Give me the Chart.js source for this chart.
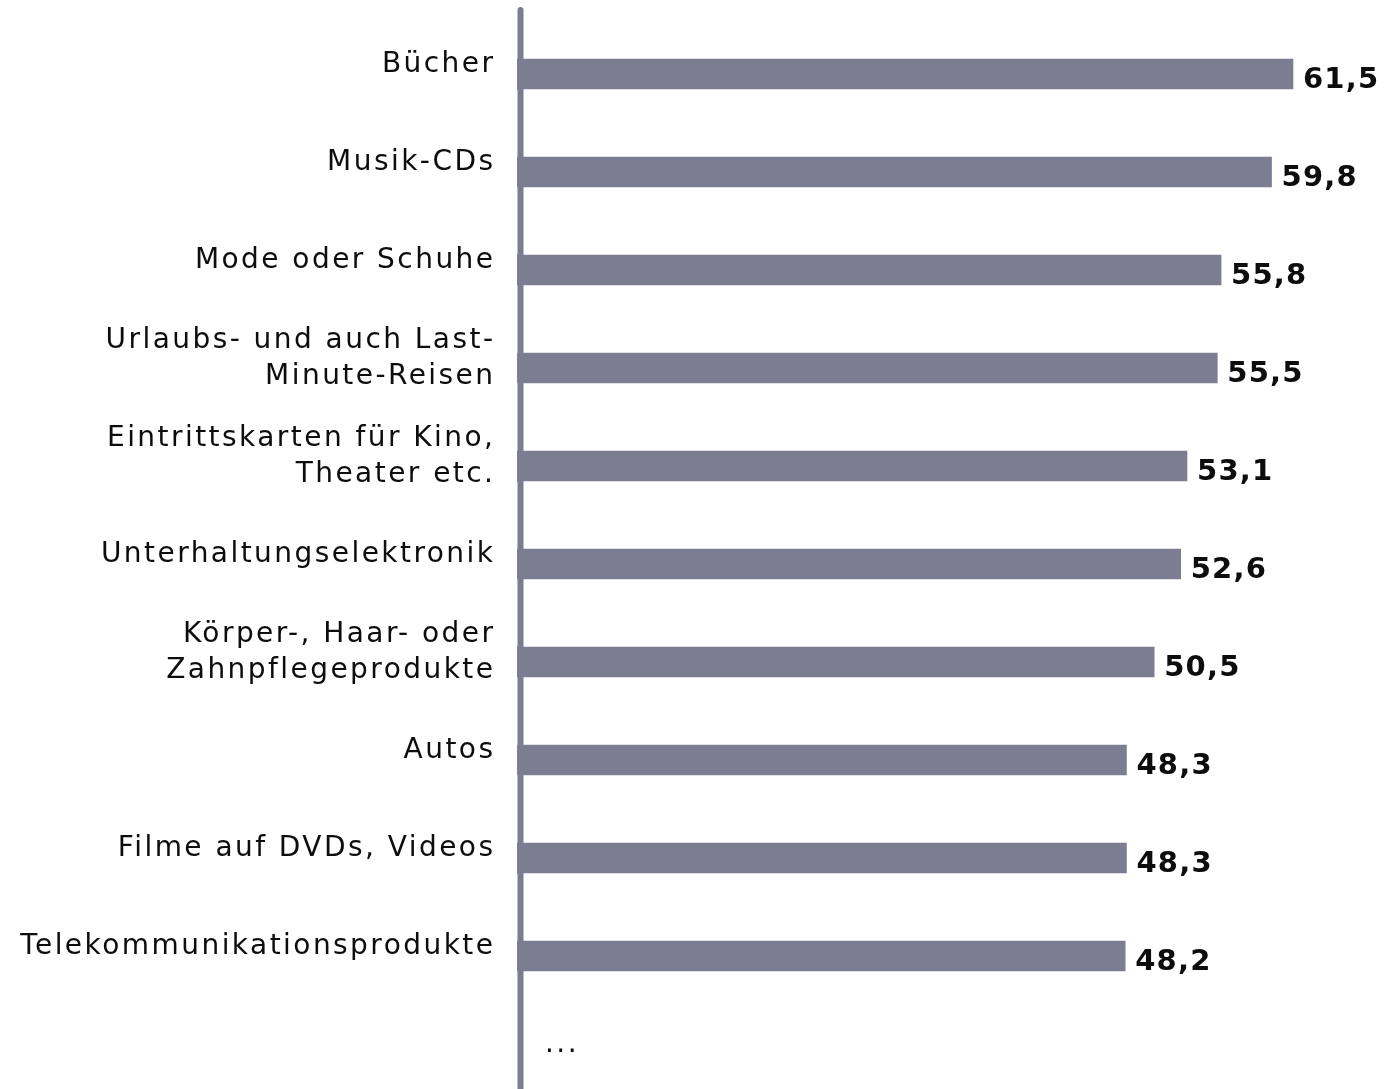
<!DOCTYPE html>
<html>
<head>
<meta charset="utf-8">
<script src="https://cdn.jsdelivr.net/npm/chart.js@4/dist/chart.umd.min.js"></script>
<style>
  html, body { margin: 0; padding: 0; background: #fff; overflow: hidden; }
  canvas { display: block; }
</style>
</head>
<body>
<canvas id="grafik" width="1386" height="1110"></canvas>
<script>
// Kategorien (mehrzeilig als Arrays), letzte Zeile = Fortsetzung
const kategorien = [
    ['Bücher'],
    ['Musik-CDs'],
    ['Mode oder Schuhe'],
    ['Urlaubs- und auch Last-', 'Minute-Reisen'],
    ['Eintrittskarten für Kino,', 'Theater etc.'],
    ['Unterhaltungselektronik'],
    ['Körper-, Haar- oder', 'Zahnpflegeprodukte'],
    ['Autos'],
    ['Filme auf DVDs, Videos'],
    ['Telekommunikationsprodukte'],
    ['...']
];
const werte = [61.5, 59.8, 55.8, 55.5, 53.1, 52.6, 50.5, 48.3, 48.3, 48.2, null];

const balkenFarbe = '#7c7c92';
const schrift = "'DejaVu Sans', Verdana, sans-serif";

// Beschriftungen und Achsenlinie selbst zeichnen (wegen Zeichenabstand)
const beschriftung = {
    id: 'beschriftung',
    afterDatasetsDraw(chart) {
        const ctx = chart.ctx;
        const y = chart.scales.y;
        const area = chart.chartArea;
        const meta = chart.getDatasetMeta(0);

        ctx.save();
        // senkrechte Achse
        ctx.strokeStyle = balkenFarbe;
        ctx.lineWidth = 6;
        ctx.lineCap = 'round';
        ctx.beginPath();
        ctx.moveTo(area.left + 3.5, 10);
        ctx.lineTo(area.left + 3.5, chart.height + 5);
        ctx.stroke();

        ctx.fillStyle = '#0d0d0d';
        ctx.textBaseline = 'alphabetic';
        for (let i = 0; i < kategorien.length; i++) {
            const zeilen = kategorien[i];
            const c = y.getPixelForValue(i);
            ctx.font = '28px ' + schrift;
            ctx.letterSpacing = '2.45px';
            if (werte[i] === null) {
                ctx.textAlign = 'left';
                ctx.fillText(zeilen[0], area.left + 28, c - 2);
                continue;
            }
            ctx.textAlign = 'right';
            const start = c - 2 - (zeilen.length - 1) * 18;
            zeilen.forEach((z, k) => ctx.fillText(z, 493 + 2.45, start + k * 36));

            // Wert rechts vom Balken
            const bar = meta.data[i];
            ctx.font = 'bold 29px ' + schrift;
            ctx.letterSpacing = '1.2px';
            ctx.textAlign = 'left';
            ctx.fillText(werte[i].toFixed(1).replace('.', ','), bar.x + 10, bar.y + 14);
        }
        ctx.restore();
    }
};

new Chart(document.getElementById('grafik'), {
    type: 'bar',
    data: {
        labels: kategorien,
        datasets: [{
            data: werte,
            backgroundColor: balkenFarbe,
            barThickness: 30
        }]
    },
    options: {
        indexAxis: 'y',
        responsive: false,
        animation: false,
        devicePixelRatio: 1,
        layout: { padding: { left: 517, right: 11, top: 25, bottom: 7 } },
        plugins: { legend: { display: false }, tooltip: { enabled: false } },
        scales: {
            x: { display: false, min: 0, max: 68 },
            y: { display: false }
        }
    },
    plugins: [beschriftung]
});
</script>
</body>
</html>
